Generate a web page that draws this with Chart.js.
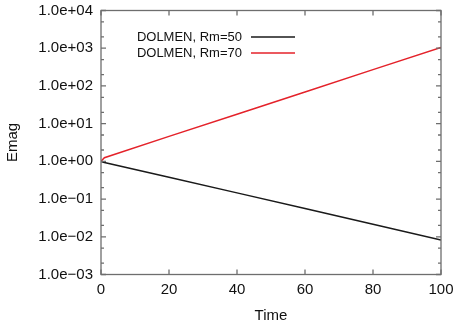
<!DOCTYPE html>
<html>
<head>
<meta charset="utf-8">
<script src="https://cdn.jsdelivr.net/npm/chart.js@4.4.1/dist/chart.umd.min.js"></script>
<style>
  html, body { margin: 0; padding: 0; background: #fff; }
  #wrap { width: 453px; height: 326px; }
</style>
</head>
<body>
<div id="wrap"><canvas id="emagChart" width="453" height="326"></canvas></div>
<script>
// Values
var timeRm50 = [0, 1, 20, 40, 60, 80, 100];
var emagRm50 = [1.0, 0.93, 0.38, 0.146, 0.056, 0.0214, 0.0082];
var timeRm70 = [0, 1, 20, 40, 60, 80, 100];
var emagRm70 = [1.0, 1.25, 4.6, 17.8, 69, 270, 1050];

var seriesLabels = ["DOLMEN, Rm=50", "DOLMEN, Rm=70"];
var seriesColors = ["#1a1a1a", "#e4222a"];

// Tick positions
var xTickValues = [0, 20, 40, 60, 80, 100];
var yTickValues = [1e-3, 1e-2, 1e-1, 1e0, 1e1, 1e2, 1e3, 1e4];
var yMinorFactors = [2, 5];

var FONT = "'Liberation Sans', Arial, Helvetica, sans-serif";
var AXIS_COLOR = "#6e6e6e";

function toPoints(xs, ys) {
  return xs.map(function (x, i) { return { x: x, y: ys[i] }; });
}

// gnuplot style "1.0e+04" / "1.0e−03"
function formatExp(v) {
  var parts = Number(v).toExponential(1).split("e");
  var exp = parseInt(parts[1], 10);
  var sign = exp < 0 ? "\u2212" : "+";
  var mag = Math.abs(exp);
  return parts[0] + "e" + sign + (mag < 10 ? "0" + mag : "" + mag);
}

// Box around plot with inward ticks on all four sides (mirrored)
var frameTicks = {
  id: "frameTicks",
  afterDraw: function (chart) {
    var ctx = chart.ctx;
    var a = chart.chartArea;
    var xs = chart.scales.x;
    var ys = chart.scales.y;
    ctx.save();
    ctx.strokeStyle = AXIS_COLOR;
    ctx.lineWidth = 1.3;
    ctx.strokeRect(a.left, a.top, a.right - a.left, a.bottom - a.top);
    ctx.beginPath();
    xTickValues.forEach(function (v) {
      var px = xs.getPixelForValue(v);
      ctx.moveTo(px, a.bottom); ctx.lineTo(px, a.bottom - 5);
      ctx.moveTo(px, a.top); ctx.lineTo(px, a.top + 5);
    });
    yTickValues.forEach(function (v, i) {
      var py = ys.getPixelForValue(v);
      ctx.moveTo(a.left, py); ctx.lineTo(a.left + 5, py);
      ctx.moveTo(a.right, py); ctx.lineTo(a.right - 5, py);
      if (i < yTickValues.length - 1) {
        yMinorFactors.forEach(function (f) {
          var pm = ys.getPixelForValue(v * f);
          ctx.moveTo(a.left, pm); ctx.lineTo(a.left + 3, pm);
          ctx.moveTo(a.right, pm); ctx.lineTo(a.right - 3, pm);
        });
      }
    });
    ctx.stroke();
    ctx.restore();
  }
};

// gnuplot style key: text right-aligned, line sample to its right
var gnuKey = {
  id: "gnuKey",
  afterDraw: function (chart) {
    var ctx = chart.ctx;
    ctx.save();
    ctx.font = "13px " + FONT;
    ctx.textAlign = "right";
    ctx.textBaseline = "middle";
    chart.data.datasets.forEach(function (ds, i) {
      var y = 37 + i * 16;
      ctx.fillStyle = "#111";
      ctx.fillText(ds.label, 242, y);
      ctx.strokeStyle = ds.borderColor;
      ctx.lineWidth = 1.4;
      ctx.beginPath();
      ctx.moveTo(251, y);
      ctx.lineTo(295, y);
      ctx.stroke();
    });
    ctx.restore();
  }
};

var ctx = document.getElementById("emagChart").getContext("2d");
var emagChart = new Chart(ctx, {
  type: "line",
  data: {
    datasets: [
      {
        label: seriesLabels[0],
        data: toPoints(timeRm50, emagRm50),
        borderColor: seriesColors[0],
        borderWidth: 1.5,
        pointRadius: 0,
        fill: false,
        tension: 0
      },
      {
        label: seriesLabels[1],
        data: toPoints(timeRm70, emagRm70),
        borderColor: seriesColors[1],
        borderWidth: 1.5,
        pointRadius: 0,
        fill: false,
        tension: 0
      }
    ]
  },
  options: {
    responsive: false,
    animation: false,
    devicePixelRatio: 1,
    layout: { padding: { left: 4, right: 12, top: 10.5, bottom: 1.5 } },
    plugins: {
      legend: { display: false },
      tooltip: { enabled: false }
    },
    scales: {
      x: {
        type: "linear",
        min: 0,
        max: 100,
        grid: { display: false, drawTicks: false },
        border: { display: false },
        afterBuildTicks: function (scale) {
          scale.ticks = xTickValues.map(function (v) { return { value: v }; });
        },
        afterFit: function (scale) {
          scale.height = 50;
          scale.paddingLeft = 0;
          scale.paddingRight = 0;
        },
        ticks: {
          color: "#111",
          padding: 6,
          maxRotation: 0,
          font: { family: FONT, size: 15 }
        },
        title: {
          display: true,
          text: "Time",
          color: "#111",
          padding: { top: 2, bottom: 0 },
          font: { family: FONT, size: 15 }
        }
      },
      y: {
        type: "logarithmic",
        min: 1e-3,
        max: 1e4,
        grid: { display: false, drawTicks: false },
        border: { display: false },
        afterBuildTicks: function (scale) {
          scale.ticks = yTickValues.map(function (v) { return { value: v }; });
        },
        afterFit: function (scale) {
          scale.width = 97;
          scale.paddingTop = 0;
          scale.paddingBottom = 0;
        },
        ticks: {
          color: "#111",
          padding: 8,
          font: { family: FONT, size: 15 },
          callback: function (value) { return formatExp(value); }
        },
        title: {
          display: true,
          text: "Emag",
          color: "#111",
          padding: { top: 0, bottom: 0 },
          font: { family: FONT, size: 15 }
        }
      }
    }
  },
  plugins: [frameTicks, gnuKey]
});
</script>
</body>
</html>
